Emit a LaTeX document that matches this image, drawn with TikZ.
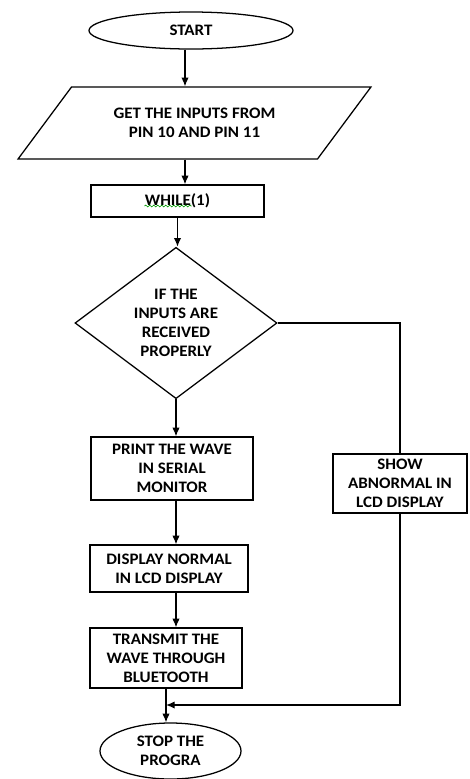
\documentclass[tikz,border=0pt]{standalone}
\usepackage{fontspec}
\setmainfont{Carlito}[FakeStretch=1.06]
\usetikzlibrary{shapes.geometric,arrows.meta,decorations.pathmorphing}
\begin{document}
\begin{tikzpicture}[x=0.75pt,y=-0.75pt,line width=0.95pt,font=\bfseries\fontsize{12}{14.2}\selectfont,
	box/.style={draw,rectangle,align=center,inner sep=0pt},
	term/.style={draw,ellipse,align=center,inner sep=0pt},
	arr/.style={-{Latex[length=6.5pt,width=5.5pt]}}]
	\useasboundingbox (0,0) rectangle (469,779);
	%blocks----------------------------
	   \node[term,minimum width=153pt,minimum height=27.75pt] (start) at (191,30.5) {START}; %start
	   \node[draw,trapezium,trapezium left angle=40,trapezium right angle=140,trapezium stretches=true,
	         minimum width=264.75pt,minimum height=54pt,align=center,inner sep=0pt] (inputs) at (194.5,123) {GET THE INPUTS FROM\\PIN 10 AND PIN 11}; %inputs
	   \node[box,minimum width=129.75pt,minimum height=24pt] (while) at (177.5,201) {WHILE(1)}; %loop
	   \node[draw,diamond,align=center,inner sep=0pt,minimum width=151.5pt,minimum height=111pt] (check) at (176,323) {IF THE\\INPUTS ARE\\RECEIVED\\PROPERLY}; %decision
	   \node[box,minimum width=121.5pt,minimum height=47.25pt] (print) at (172,468.5) {PRINT THE WAVE\\IN SERIAL\\MONITOR}; %print
	   \node[box,minimum width=100.5pt,minimum height=44.25pt] (abnormal) at (400,483.5) {SHOW\\ABNORMAL IN\\LCD DISPLAY}; %abnormal
	   \node[box,minimum width=118.5pt,minimum height=35.25pt] (normal) at (169,568.5) {DISPLAY NORMAL\\IN LCD DISPLAY}; %normal
	   \node[box,minimum width=114pt,minimum height=45pt] (send) at (166,658) {TRANSMIT THE\\WAVE THROUGH\\BLUETOOTH}; %bluetooth
	   \node[term,minimum width=105.75pt,minimum height=42pt] (stop) at (170.5,751) {STOP THE\\PROGRA}; %stop
	%spell check mark
	   \draw[green!60!black,line width=0.5pt,decorate,decoration={snake,amplitude=0.7pt,segment length=3pt}]
	     ([shift={(-33,5)}]while.center) -- ([shift={(14,5)}]while.center); %squiggle
	%arrows----------------------------
	   \draw[arr] ([shift={(-6,0)}]start.south) -- ([shift={(-6,0)}]start.south |- inputs.north); %start-inputs
	   \draw[arr] ([shift={(7.5,0)}]while.north |- inputs.south) -- ([shift={(7.5,0)}]while.north); %inputs-while
	   \draw[arr] (while.south) -- (while.south |- check.north); %while-check
	   \draw[arr] (check.south) -- (check.south |- print.north); %yes
	   \draw (check.east) -| (abnormal.north); %no
	   \draw[arr] (check.south |- print.south) -- (check.south |- normal.north); %print-normal
	   \draw[arr] (check.south |- normal.south) -- (check.south |- send.north); %normal-send
	   \draw[arr] (send.south) -- (send.south |- stop.north); %send-stop
	   \coordinate (merge) at (send.south |- 0,705); %join point
	   \draw[arr] (abnormal.south) |- (merge); %abnormal-stop
\end{tikzpicture}
\end{document}
